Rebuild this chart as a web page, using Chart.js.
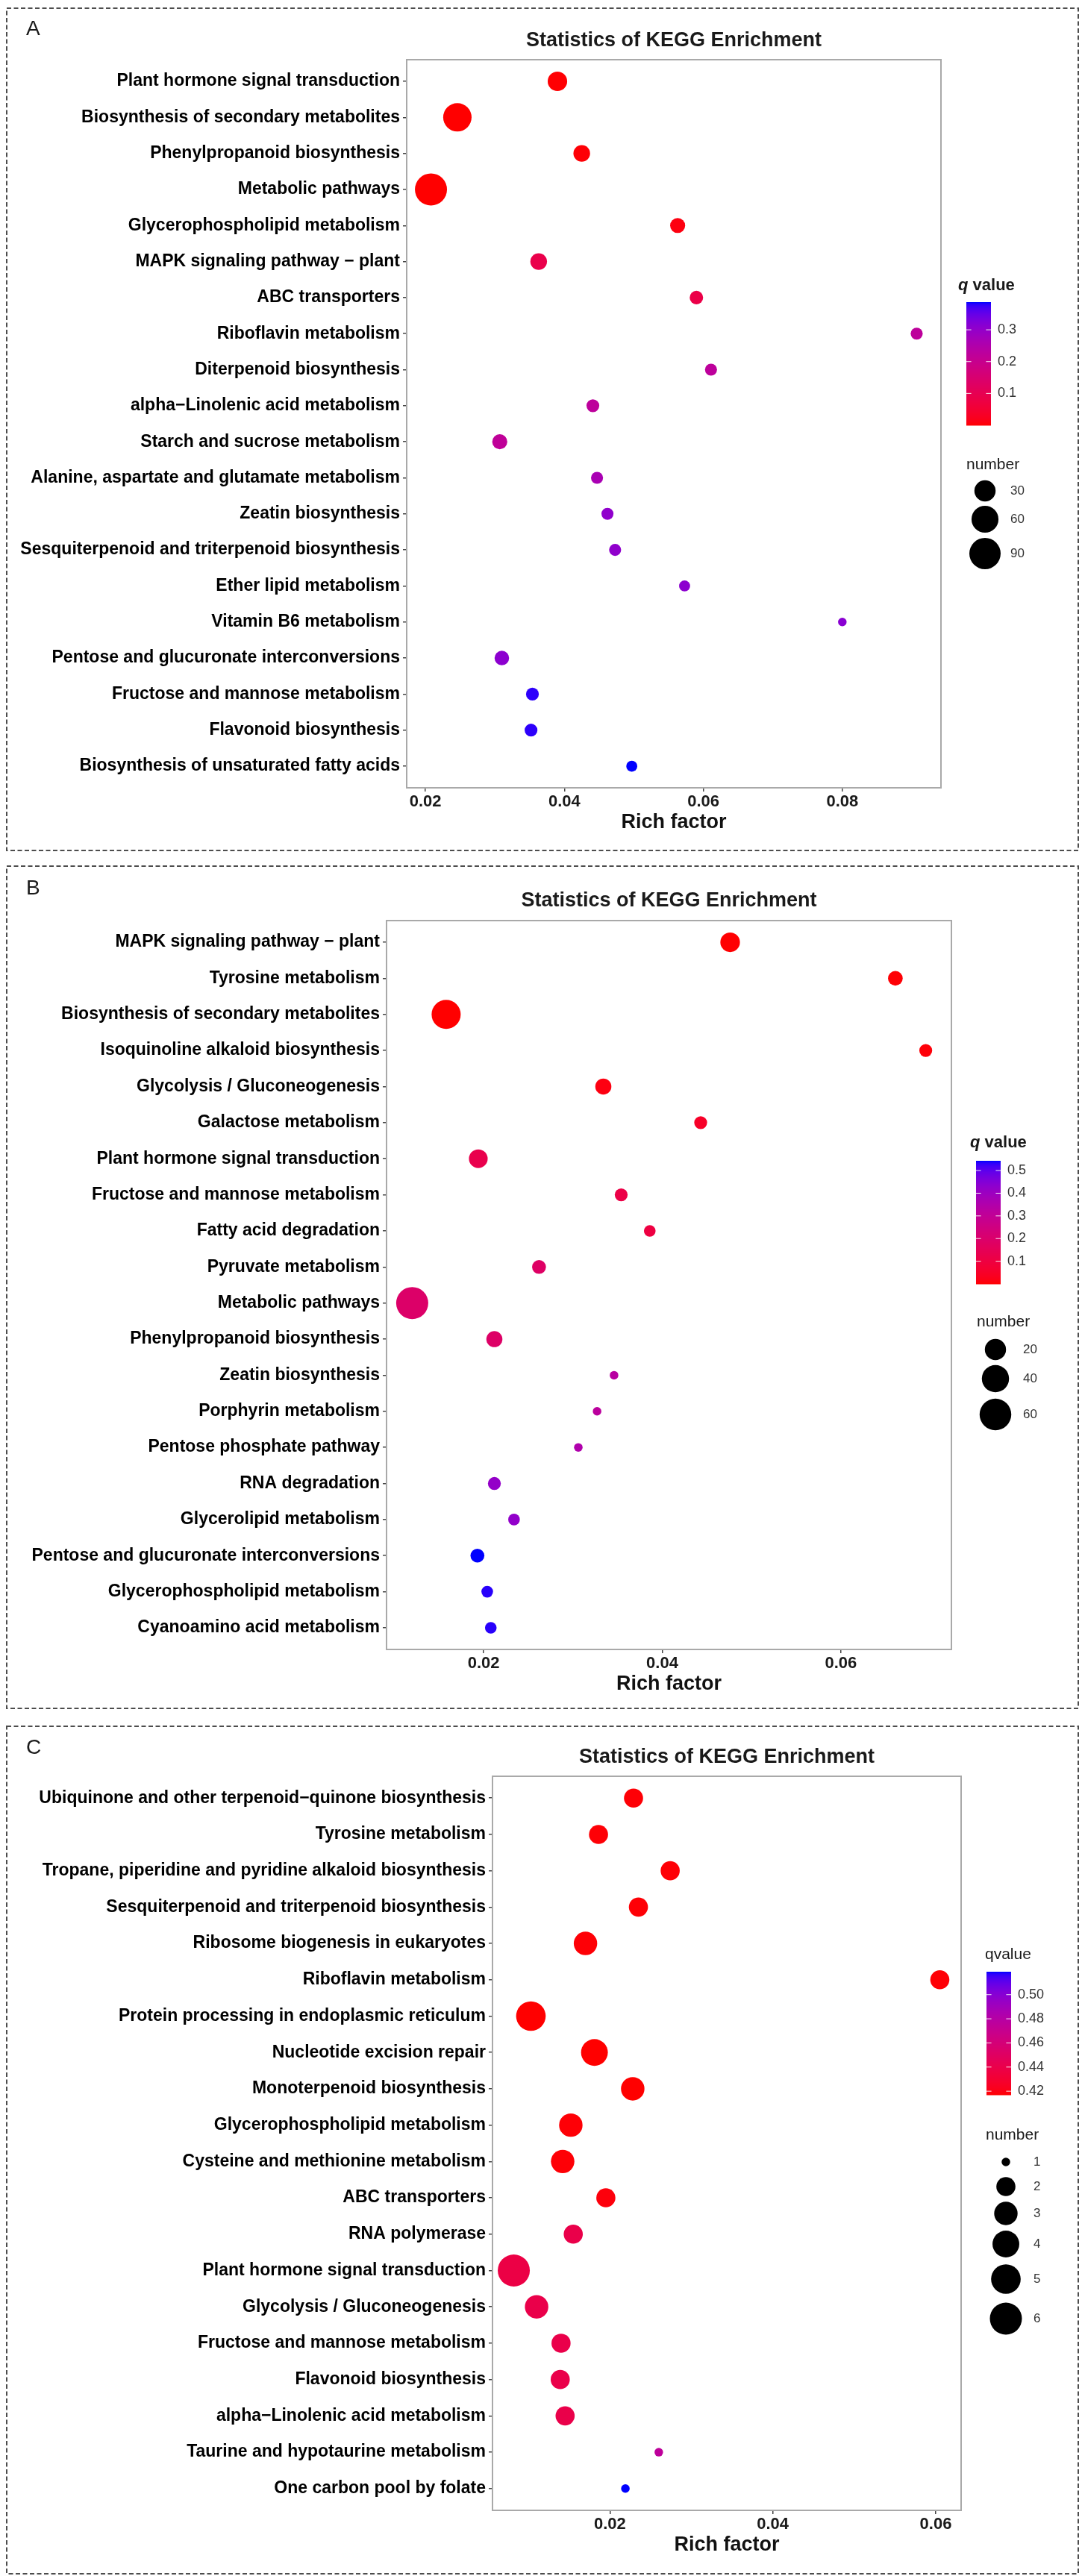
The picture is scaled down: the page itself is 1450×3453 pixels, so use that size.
<!DOCTYPE html>
<html>
<head>
<meta charset="utf-8">
<title>Statistics of KEGG Enrichment</title>
<script src="https://cdn.jsdelivr.net/npm/chart.js@4.4.1/dist/chart.umd.min.js"></script>
<style>
  html, body { margin: 0; padding: 0; background: #fff; }
  body { width: 1450px; height: 3453px; position: relative; overflow: hidden; }
  canvas.plot { position: absolute; left: 0; }
</style>
</head>
<body>
<canvas id="chartA" class="plot" style="top:0px" width="1450" height="1150"></canvas>
<canvas id="chartB" class="plot" style="top:1150px" width="1450" height="1150"></canvas>
<canvas id="chartC" class="plot" style="top:2300px" width="1450" height="1153"></canvas>

<script>
// ── Panel A ──
const categoriesA = [
  "Plant hormone signal transduction",
  "Biosynthesis of secondary metabolites",
  "Phenylpropanoid biosynthesis",
  "Metabolic pathways",
  "Glycerophospholipid metabolism",
  "MAPK signaling pathway \u2212 plant",
  "ABC transporters",
  "Riboflavin metabolism",
  "Diterpenoid biosynthesis",
  "alpha\u2212Linolenic acid metabolism",
  "Starch and sucrose metabolism",
  "Alanine, aspartate and glutamate metabolism",
  "Zeatin biosynthesis",
  "Sesquiterpenoid and triterpenoid biosynthesis",
  "Ether lipid metabolism",
  "Vitamin B6 metabolism",
  "Pentose and glucuronate interconversions",
  "Fructose and mannose metabolism",
  "Flavonoid biosynthesis",
  "Biosynthesis of unsaturated fatty acids",
];
const richFactorA = [0.0390, 0.0246, 0.0425, 0.0208, 0.0563, 0.0363, 0.0590, 0.0907, 0.0611, 0.0441,
                     0.0307, 0.0447, 0.0462, 0.0473, 0.0573, 0.0800, 0.0310, 0.0354, 0.0352, 0.0497];
const geneNumberA = [23, 69, 14, 96, 10, 14, 7, 5, 5, 6, 10, 5, 5, 5, 4, 3, 9, 6, 6, 4];
const qValueA = [0.002, 0.000, 0.004, 0.000, 0.010, 0.090, 0.085, 0.225, 0.225, 0.225,
                 0.220, 0.265, 0.305, 0.305, 0.310, 0.315, 0.310, 0.380, 0.380, 0.387];
const xTicksA = [0.02, 0.04, 0.06, 0.08];
const qTicksA = [0.1, 0.2, 0.3];
const qTickLabelsA = ["0.1", "0.2", "0.3"];
const sizeTicksA = [30, 60, 90];

// ── Panel B ──
const categoriesB = [
  "MAPK signaling pathway \u2212 plant",
  "Tyrosine metabolism",
  "Biosynthesis of secondary metabolites",
  "Isoquinoline alkaloid biosynthesis",
  "Glycolysis / Gluconeogenesis",
  "Galactose metabolism",
  "Plant hormone signal transduction",
  "Fructose and mannose metabolism",
  "Fatty acid degradation",
  "Pyruvate metabolism",
  "Metabolic pathways",
  "Phenylpropanoid biosynthesis",
  "Zeatin biosynthesis",
  "Porphyrin metabolism",
  "Pentose phosphate pathway",
  "RNA degradation",
  "Glycerolipid metabolism",
  "Pentose and glucuronate interconversions",
  "Glycerophospholipid metabolism",
  "Cyanoamino acid metabolism",
];
const richFactorB = [0.0476, 0.0661, 0.0158, 0.0695, 0.0334, 0.0443, 0.0194, 0.0354, 0.0386, 0.0262,
                     0.0120, 0.0212, 0.0346, 0.0327, 0.0306, 0.0212, 0.0234, 0.0193, 0.0204, 0.0208];
const geneNumberB = [16, 7, 48, 5, 9, 5, 14, 5, 4, 6, 62, 9, 3, 3, 3, 5, 4, 6, 4, 4];
const qValueB = [0.002, 0.004, 0.000, 0.008, 0.015, 0.050, 0.130, 0.115, 0.105, 0.185,
                 0.195, 0.190, 0.330, 0.320, 0.355, 0.420, 0.425, 0.543, 0.535, 0.535];
const xTicksB = [0.02, 0.04, 0.06];
const qTicksB = [0.1, 0.2, 0.3, 0.4, 0.5];
const qTickLabelsB = ["0.1", "0.2", "0.3", "0.4", "0.5"];
const sizeTicksB = [20, 40, 60];

// ── Panel C ──
const categoriesC = [
  "Ubiquinone and other terpenoid\u2212quinone biosynthesis",
  "Tyrosine metabolism",
  "Tropane, piperidine and pyridine alkaloid biosynthesis",
  "Sesquiterpenoid and triterpenoid biosynthesis",
  "Ribosome biogenesis in eukaryotes",
  "Riboflavin metabolism",
  "Protein processing in endoplasmic reticulum",
  "Nucleotide excision repair",
  "Monoterpenoid biosynthesis",
  "Glycerophospholipid metabolism",
  "Cysteine and methionine metabolism",
  "ABC transporters",
  "RNA polymerase",
  "Plant hormone signal transduction",
  "Glycolysis / Gluconeogenesis",
  "Fructose and mannose metabolism",
  "Flavonoid biosynthesis",
  "alpha\u2212Linolenic acid metabolism",
  "Taurine and hypotaurine metabolism",
  "One carbon pool by folate",
];
const richFactorC = [0.0229, 0.0186, 0.0274, 0.0235, 0.0170, 0.0605, 0.0103, 0.0181, 0.0228, 0.0152,
                     0.0142, 0.0195, 0.0155, 0.0082, 0.0110, 0.0140, 0.0139, 0.0145, 0.0260, 0.0219];
const geneNumberC = [2, 2, 2, 2, 3, 2, 5, 4, 3, 3, 3, 2, 2, 6, 3, 2, 2, 2, 1, 1];
const qValueC = [0.418, 0.418, 0.418, 0.418, 0.418, 0.418, 0.417, 0.417, 0.417, 0.418,
                 0.418, 0.419, 0.440, 0.438, 0.440, 0.440, 0.440, 0.440, 0.476, 0.519];
const xTicksC = [0.02, 0.04, 0.06];
const qTicksC = [0.42, 0.44, 0.46, 0.48, 0.50];
const qTickLabelsC = ["0.42", "0.44", "0.46", "0.48", "0.50"];
const sizeTicksC = [1, 2, 3, 4, 5, 6];

// ── shared look ──
const FONT = '"Liberation Sans", Arial, Helvetica, sans-serif';
const D_MIN = 11.5;   // smallest bubble diameter (px)
const D_MAX = 43;     // largest bubble diameter (px)
const X_AXIS_H = 67;

Chart.defaults.font.family = FONT;

// red → blue gradient interpolated in CIELAB (like ggplot2)
const WHITE = [0.95047, 1, 1.08883];
function toLinear(c) { c /= 255; return c <= 0.04045 ? c / 12.92 : Math.pow((c + 0.055) / 1.055, 2.4); }
function toSrgb(c) {
  c = c <= 0.0031308 ? 12.92 * c : 1.055 * Math.pow(c, 1 / 2.4) - 0.055;
  return Math.round(Math.max(0, Math.min(1, c)) * 255);
}
function rgbToLab(rgb) {
  const [r, g, b] = rgb.map(toLinear);
  const xyz = [
    0.4124 * r + 0.3576 * g + 0.1805 * b,
    0.2126 * r + 0.7152 * g + 0.0722 * b,
    0.0193 * r + 0.1192 * g + 0.9505 * b,
  ].map((v, i) => v / WHITE[i]);
  const f = t => (t > 0.008856 ? Math.cbrt(t) : 7.787 * t + 16 / 116);
  const [fx, fy, fz] = xyz.map(f);
  return [116 * fy - 16, 500 * (fx - fy), 200 * (fy - fz)];
}
function labToRgb(lab) {
  const fy = (lab[0] + 16) / 116, fx = fy + lab[1] / 500, fz = fy - lab[2] / 200;
  const inv = t => (t > 0.206893 ? t * t * t : (t - 16 / 116) / 7.787);
  const [x, y, z] = [inv(fx), inv(fy), inv(fz)].map((v, i) => v * WHITE[i]);
  return [
    3.2406 * x - 1.5372 * y - 0.4986 * z,
    -0.9689 * x + 1.8758 * y + 0.0415 * z,
    0.0557 * x - 0.2040 * y + 1.0570 * z,
  ].map(toSrgb);
}
const LAB_LOW = rgbToLab([255, 0, 0]);
const LAB_HIGH = rgbToLab([0, 0, 255]);
function rampColor(t) {
  t = Math.max(0, Math.min(1, t));
  const lab = LAB_LOW.map((v, i) => v + (LAB_HIGH[i] - v) * t);
  const [r, g, b] = labToRgb(lab);
  return `rgb(${r},${g},${b})`;
}

// ── frame, titles and the two legends ──
const decorPlugin = {
  id: "decor",
  afterDraw(chart, args, o) {
    const ctx = chart.ctx;
    const a = chart.chartArea;
    ctx.save();

    // dashed panel box
    ctx.setLineDash([6, 3.5]);
    ctx.strokeStyle = "#4d4d4d";
    ctx.lineWidth = 2;
    ctx.strokeRect(o.box[0], o.box[1], o.box[2] - o.box[0], o.box[3] - o.box[1]);
    ctx.setLineDash([]);

    // plot frame
    ctx.strokeStyle = "#a9a9a9";
    ctx.lineWidth = 2;
    ctx.strokeRect(a.left, a.top, a.right - a.left, a.bottom - a.top);

    ctx.textBaseline = "middle";
    ctx.fillStyle = "#1a1a1a";

    // panel letter
    ctx.textAlign = "left";
    ctx.font = `28px ${FONT}`;
    ctx.fillText(o.letter, 35, o.letterY);

    // plot title
    ctx.textAlign = "center";
    ctx.font = `bold 27px ${FONT}`;
    ctx.fillText("Statistics of KEGG Enrichment", (a.left + a.right) / 2, o.titleY);

    // colour legend title
    ctx.textAlign = "left";
    let tx = o.qTitleX;
    o.qTitle.forEach(part => {
      ctx.font = `${part.style} ${FONT}`;
      ctx.fillText(part.text, tx, o.qTitleY);
      tx += ctx.measureText(part.text).width;
    });

    // colour bar
    const bx = o.bar[0], by = o.bar[1], bw = o.bar[2], bh = o.bar[3];
    for (let i = 0; i < bh; i++) {
      ctx.fillStyle = rampColor(1 - i / bh);
      ctx.fillRect(bx, by + i, bw, 1.5);
    }
    ctx.strokeStyle = "rgba(255,255,255,0.9)";
    ctx.lineWidth = 1;
    ctx.font = `18px ${FONT}`;
    o.qTicks.forEach((v, i) => {
      const y = by + bh - ((v - o.qMin) / (o.qMax - o.qMin)) * bh;
      ctx.beginPath();
      ctx.moveTo(bx, y); ctx.lineTo(bx + bw / 5, y);
      ctx.moveTo(bx + bw - bw / 5, y); ctx.lineTo(bx + bw, y);
      ctx.stroke();
      ctx.fillStyle = "#333";
      ctx.fillText(o.qTickLabels[i], bx + bw + 9, y);
    });

    // size legend
    ctx.fillStyle = "#1a1a1a";
    ctx.font = `21px ${FONT}`;
    ctx.fillText("number", o.numTitleX, o.numTitleY);
    o.sizeTicks.forEach((v, i) => {
      ctx.fillStyle = "#000";
      ctx.beginPath();
      ctx.arc(o.keyX, o.keyY[i], o.diam(v) / 2, 0, Math.PI * 2);
      ctx.fill();
      ctx.fillStyle = "#333";
      ctx.font = `17px ${FONT}`;
      ctx.fillText(String(v), o.keyLabelX, o.keyY[i]);
    });

    ctx.restore();
  },
};

function buildPanel(canvasId, p, L) {
  const count = p.categories.length;
  const xMinData = Math.min(...p.rich), xMaxData = Math.max(...p.rich);
  const xPad = (xMaxData - xMinData) * 0.05;
  const qMin = Math.min(...p.q), qMax = Math.max(...p.q);
  const nMin = Math.min(...p.num), nMax = Math.max(...p.num);
  const diam = v => D_MIN + (D_MAX - D_MIN) * Math.sqrt(Math.max(0, (v - nMin) / (nMax - nMin)));

  const points = p.rich.map((x, i) => ({ x: x, y: i, r: diam(p.num[i]) / 2 }));
  const colors = p.q.map(v => rampColor((v - qMin) / (qMax - qMin)));

  const tickFont = { family: FONT, size: 22, weight: "bold" };
  const catFont = { family: FONT, size: 23, weight: "bold" };

  return new Chart(document.getElementById(canvasId), {
    type: "bubble",
    data: {
      datasets: [{
        data: points,
        backgroundColor: colors,
        borderWidth: 0,
        hoverBorderWidth: 0,
        hoverRadius: 0,
      }],
    },
    options: {
      responsive: false,
      animation: false,
      events: [],
      layout: {
        padding: { left: 0, top: L.top, right: 1450 - L.right, bottom: L.height - L.bottom - X_AXIS_H },
      },
      plugins: {
        legend: { display: false },
        tooltip: { enabled: false },
        decor: {
          box: L.box, letter: L.letter, letterY: L.letterY, titleY: L.titleY,
          qTitle: L.qTitle, qTitleX: L.qTitleX, qTitleY: L.qTitleY,
          bar: L.bar, qMin: qMin, qMax: qMax, qTicks: p.qTicks, qTickLabels: p.qTickLabels,
          numTitleX: L.numTitleX, numTitleY: L.numTitleY,
          sizeTicks: p.sizeTicks, keyX: L.keyX, keyY: L.keyY, keyLabelX: L.keyLabelX, diam: diam,
        },
      },
      scales: {
        x: {
          type: "linear",
          min: xMinData - xPad,
          max: xMaxData + xPad,
          afterBuildTicks: s => { s.ticks = p.xTicks.map(v => ({ value: v })); },
          afterFit: s => { s.height = X_AXIS_H; },
          grid: { drawOnChartArea: false, tickLength: 5, color: "#444", lineWidth: 1.5 },
          border: { display: false },
          ticks: {
            font: tickFont, color: "#1a1a1a", padding: 1, maxRotation: 0, autoSkip: false,
            callback: v => v.toFixed(2),
          },
          title: {
            display: true, text: "Rich factor", color: "#111",
            font: { family: FONT, size: 27, weight: "bold" },
            padding: { top: 0, bottom: 4 },
          },
        },
        y: {
          type: "linear",
          reverse: true,
          min: -0.6,
          max: count - 0.4,
          afterBuildTicks: s => { s.ticks = p.categories.map((_, i) => ({ value: i })); },
          afterFit: s => { s.width = L.left; },
          grid: { drawOnChartArea: false, tickLength: 5, color: "#444", lineWidth: 1.5 },
          border: { display: false },
          ticks: {
            font: catFont, color: "#000", padding: 4, autoSkip: false,
            callback: v => p.categories[v],
          },
        },
      },
    },
    plugins: [decorPlugin],
  });
}

buildPanel("chartA",
  { categories: categoriesA, rich: richFactorA, num: geneNumberA, q: qValueA,
    xTicks: xTicksA, qTicks: qTicksA, qTickLabels: qTickLabelsA, sizeTicks: sizeTicksA },
  { height: 1150, left: 545, top: 80, right: 1261, bottom: 1056,
    box: [9, 11, 1445, 1140], letter: "A", letterY: 39, titleY: 55,
    qTitle: [{ text: "q", style: "italic bold 22px" }, { text: " value", style: "bold 22px" }],
    qTitleX: 1284, qTitleY: 383, bar: [1295, 405, 33, 165],
    numTitleX: 1295, numTitleY: 623, keyX: 1320, keyY: [658, 696, 742], keyLabelX: 1354 });

buildPanel("chartB",
  { categories: categoriesB, rich: richFactorB, num: geneNumberB, q: qValueB,
    xTicks: xTicksB, qTicks: qTicksB, qTickLabels: qTickLabelsB, sizeTicks: sizeTicksB },
  { height: 1150, left: 518, top: 84, right: 1275, bottom: 1061,
    box: [9, 11, 1445, 1140], letter: "B", letterY: 41, titleY: 58,
    qTitle: [{ text: "q", style: "italic bold 22px" }, { text: " value", style: "bold 22px" }],
    qTitleX: 1300, qTitleY: 382, bar: [1308, 406, 33, 165],
    numTitleX: 1309, numTitleY: 622, keyX: 1334, keyY: [659, 698, 746], keyLabelX: 1371 });

buildPanel("chartC",
  { categories: categoriesC, rich: richFactorC, num: geneNumberC, q: qValueC,
    xTicks: xTicksC, qTicks: qTicksC, qTickLabels: qTickLabelsC, sizeTicks: sizeTicksC },
  { height: 1153, left: 660, top: 81, right: 1288, bottom: 1065,
    box: [9, 14, 1445, 1150], letter: "C", letterY: 43, titleY: 56,
    qTitle: [{ text: "qvalue", style: "21px" }],
    qTitleX: 1320, qTitleY: 320, bar: [1322, 343, 33, 165],
    numTitleX: 1321, numTitleY: 562, keyX: 1348, keyY: [598, 631, 667, 708, 755, 808], keyLabelX: 1385 });
</script>
</body>
</html>
